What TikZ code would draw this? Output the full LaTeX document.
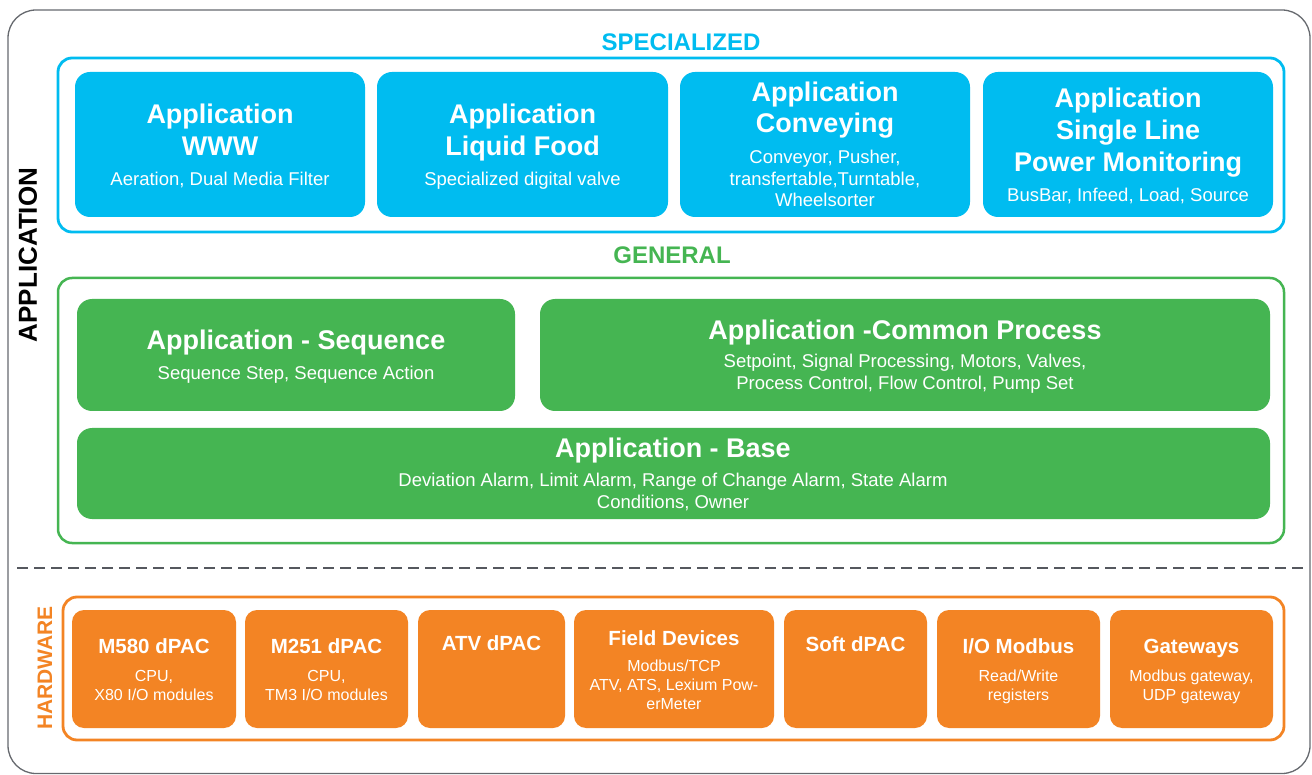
\documentclass[tikz,border=0pt]{standalone}
\usepackage{fontspec}
\setmainfont{Liberation Sans}
\usetikzlibrary{fit}
\definecolor{scyan}{RGB}{0,188,240}
\definecolor{sgreen}{RGB}{69,181,82}
\definecolor{sorange}{RGB}{243,132,36}
\definecolor{sgray}{RGB}{85,88,94}
\begin{document}
\begin{tikzpicture}[x=1pt,y=-1pt,
  cbox/.style={fill=scyan, rounded corners=15pt, inner sep=0pt, outer sep=0pt},
  gbox/.style={fill=sgreen, rounded corners=15pt, inner sep=0pt, outer sep=0pt},
  obox/.style={fill=sorange, rounded corners=12pt, inner sep=0pt, outer sep=0pt},
  frame/.style={line width=2.8pt, rounded corners=14pt, fill=white, inner sep=0pt, outer sep=0pt},
  ttl/.style={text=white, font=\fontsize{27}{32}\selectfont\bfseries, anchor=base, inner sep=0pt},
  sub/.style={text=white, font=\fontsize{18.5}{22}\selectfont, anchor=base, inner sep=0pt},
  httl/.style={text=white, font=\fontsize{20.5}{24}\selectfont\bfseries, anchor=base, inner sep=0pt},
  hsub/.style={text=white, font=\fontsize{16}{19}\selectfont, anchor=base, inner sep=0pt},
  head/.style={font=\fontsize{24}{28}\selectfont\bfseries, inner sep=0pt},
  dashline/.style={draw=sgray, line width=2.5pt, dash pattern=on 11pt off 6pt}
]
\useasboundingbox (0,0) rectangle (1312,775);
% outer frame
\draw[sgray!90, line width=1.3pt, rounded corners=28pt] (8,10) rectangle (1310,773.5);

\node[head, rotate=90, font=\fontsize{26}{30}\selectfont\bfseries] (app) at (28,255) {APPLICATION};

% SPECIALIZED
\node[head, text=scyan] (spec) at (681,42) {SPECIALIZED};
\node[frame, draw=scyan, fit={(58,58) (1284,232)}] (sf) {};
\node[cbox, fit={(75,72) (365,217)}] (s1) {};
\node[cbox, fit={(377,72) (668,217)}] (s2) {};
\node[cbox, fit={(680,72) (970,217)}] (s3) {};
\node[cbox, fit={(983,72) (1273,217)}] (s4) {};

\node[ttl] (s1a) at (220,123.5) {Application};
\node[ttl] (s1b) at (220,156) {WWW};
\node[sub] (s1c) at (220,186) {Aeration, Dual Media Filter};

\node[ttl] (s2a) at (522.5,123.5) {Application};
\node[ttl] (s2b) at (522.5,156) {Liquid Food};
\node[sub] (s2c) at (522.5,186) {Specialized digital valve};

\node[ttl] (s3a) at (825,101.5) {Application};
\node[ttl] (s3b) at (825,133) {Conveying};
\node[sub] (s3c) at (825,164) {Conveyor, Pusher,};
\node[sub] (s3d) at (825,186) {transfertable,Turntable,};
\node[sub] (s3e) at (825,207) {Wheelsorter};

\node[ttl] (s4a) at (1128,108) {Application};
\node[ttl] (s4b) at (1128,140) {Single Line};
\node[ttl] (s4c) at (1128,172) {Power Monitoring};
\node[sub] (s4d) at (1128,201.5) {BusBar, Infeed, Load, Source};

% GENERAL
\node[head, text=sgreen] (gen) at (672,255) {GENERAL};
\node[frame, draw=sgreen, line width=2.5pt, fit={(58,278) (1284,543)}] (gf) {};
\node[gbox, fit={(77,299) (515,411)}] (g1) {};
\node[gbox, fit={(540,299) (1270,411)}] (g2) {};
\node[gbox, fit={(77,428) (1270,519)}] (g3) {};

\node[ttl] (g1a) at (296,350) {Application - Sequence};
\node[sub] (g1b) at (296,380) {Sequence Step, Sequence Action};

\node[ttl] (g2a) at (905,339.5) {Application -Common Process};
\node[sub] (g2b) at (905,368) {Setpoint, Signal Processing, Motors, Valves,};
\node[sub] (g2c) at (905,390) {Process Control, Flow Control, Pump Set};

\node[ttl] (g3a) at (673,457.5) {Application - Base};
\node[sub] (g3b) at (673,486.5) {Deviation Alarm, Limit Alarm, Range of Change Alarm, State Alarm};
\node[sub] (g3c) at (673,508) {Conditions, Owner};

% dashed separator
\coordinate (dl1) at (17,568);
\coordinate (dl2) at (1306,568);
\draw[dashline] (dl1) -- (dl2);

% HARDWARE
\node[head, rotate=90, text=sorange, font=\fontsize{21}{25}\selectfont\bfseries] (hw) at (45,668) {HARDWARE};
\node[frame, draw=sorange, fit={(63,597) (1284,740)}] (hf) {};
\node[obox, fit={(72,610) (236,728)}] (h1) {};
\node[obox, fit={(245,610) (408,728)}] (h2) {};
\node[obox, fit={(418,610) (565,728)}] (h3) {};
\node[obox, fit={(574,610) (774,728)}] (h4) {};
\node[obox, fit={(784,610) (927,728)}] (h5) {};
\node[obox, fit={(937,610) (1100,728)}] (h6) {};
\node[obox, fit={(1110,610) (1273,728)}] (h7) {};

\node[httl] (h1a) at (154,653) {M580 dPAC};
\node[hsub] (h1b) at (154,681.5) {CPU,};
\node[hsub] (h1c) at (154,700) {X80 I/O modules};

\node[httl] (h2a) at (326.5,653) {M251 dPAC};
\node[hsub] (h2b) at (326.5,681.5) {CPU,};
\node[hsub] (h2c) at (326.5,700) {TM3 I/O modules};

\node[httl] (h3a) at (491.5,650) {ATV dPAC};

\node[httl] (h4a) at (674,645) {Field Devices};
\node[hsub] (h4b) at (674,671) {Modbus/TCP};
\node[hsub] (h4c) at (674,690) {ATV, ATS, Lexium Pow-};
\node[hsub] (h4d) at (674,709) {erMeter};

\node[httl] (h5a) at (855.5,651) {Soft dPAC};

\node[httl] (h6a) at (1018.5,653) {I/O Modbus};
\node[hsub] (h6b) at (1018.5,681.5) {Read/Write};
\node[hsub] (h6c) at (1018.5,700) {registers};

\node[httl] (h7a) at (1191.5,653) {Gateways};
\node[hsub] (h7b) at (1191.5,681.5) {Modbus gateway,};
\node[hsub] (h7c) at (1191.5,700) {UDP gateway};
\end{tikzpicture}
\end{document}
